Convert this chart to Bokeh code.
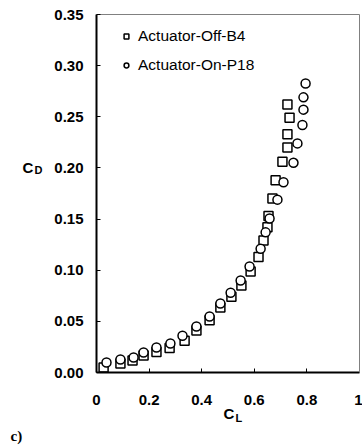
from bokeh.plotting import figure
from bokeh.models import (Range1d, FixedTicker, PrintfTickFormatter, CustomJSTickFormatter,
                          Legend, LegendItem, Label, ColumnDataSource, LinearAxis)
from bokeh.embed import file_html
from bokeh.resources import INLINE

# ---- data ----
off_cl = [0.027, 0.091, 0.137, 0.179, 0.228, 0.278, 0.335, 0.380, 0.430, 0.471, 0.513, 0.551,
          0.586, 0.616, 0.635, 0.650, 0.654, 0.669, 0.681, 0.707, 0.726, 0.726, 0.734, 0.726]
off_cd = [0.005, 0.0088, 0.0117, 0.0166, 0.020, 0.024, 0.031, 0.041, 0.051, 0.0635, 0.074, 0.085,
          0.0987, 0.113, 0.129, 0.142, 0.153, 0.170, 0.188, 0.206, 0.220, 0.233, 0.249, 0.262]
on_cl = [0.038, 0.091, 0.141, 0.179, 0.228, 0.281, 0.327, 0.380, 0.430, 0.471, 0.510, 0.548,
         0.582, 0.624, 0.643, 0.658, 0.688, 0.711, 0.749, 0.764, 0.783, 0.787, 0.787, 0.795]
on_cd = [0.0098, 0.0127, 0.0147, 0.0196, 0.0244, 0.0283, 0.036, 0.045, 0.0547, 0.0674, 0.078, 0.090,
         0.1036, 0.121, 0.137, 0.1505, 0.169, 0.186, 0.205, 0.224, 0.242, 0.257, 0.269, 0.2825]
series_names = ["Actuator-Off-B4", "Actuator-On-P18"]
x_ticks = [0, 0.2, 0.4, 0.6, 0.8, 1]
y_ticks = [0.0, 0.05, 0.10, 0.15, 0.20, 0.25, 0.30, 0.35]
x_lim = (0, 1)
y_lim = (0, 0.35)

FONT = "Liberation Sans"
W, H = 362, 446
# plot box in pixels (left, right, top, bottom)
PL, PR, PT, PB = 96, 359, 14, 372

# the frame covers the whole canvas; axes are drawn at fixed locations
kx = (PR - PL) / (x_lim[1] - x_lim[0])
ky = (PB - PT) / (y_lim[1] - y_lim[0])
x0 = x_lim[0] - PL / kx
y0 = y_lim[0] - (H - PB) / ky

p = figure(width=W, height=H, output_backend="svg", toolbar_location=None,
           x_range=Range1d(x0, x0 + W / kx), y_range=Range1d(y0, y0 + H / ky),
           min_border=0, min_border_left=0, min_border_right=0,
           min_border_top=0, min_border_bottom=0)

p.xgrid.visible = False
p.ygrid.visible = False
p.background_fill_color = "white"
p.border_fill_color = "white"
p.outline_line_color = None

xa = p.xaxis[0]
ya = p.yaxis[0]
xa.fixed_location = y_lim[0]
ya.fixed_location = x_lim[0]
xa.bounds = x_lim
ya.bounds = y_lim
for ax in (xa, ya):
    ax.axis_line_color = "black"
    ax.axis_line_width = 2
    ax.major_tick_in = 4
    ax.major_tick_out = 0
    ax.minor_tick_in = 0
    ax.minor_tick_out = 0
    ax.major_tick_line_color = "black"
    ax.major_tick_line_width = 1
    ax.major_label_text_font = FONT
    ax.major_label_text_font_style = "bold"
    ax.major_label_text_font_size = "15px"
    ax.major_label_text_color = "black"

xa.ticker = FixedTicker(ticks=x_ticks)
xa.formatter = CustomJSTickFormatter(code="return String(tick);")
xa.major_label_standoff = 22
ya.ticker = FixedTicker(ticks=y_ticks)
ya.formatter = PrintfTickFormatter(format="%.2f")
ya.major_label_standoff = 13

# grey top and right border of the plot box
for side, loc, bnds in (("above", y_lim[1], x_lim), ("right", x_lim[1], y_lim)):
    b = LinearAxis(fixed_location=loc, bounds=bnds, ticker=FixedTicker(ticks=[]),
                   axis_line_color="#808080", axis_line_width=1,
                   major_tick_line_color=None, minor_tick_line_color=None,
                   major_label_text_font_size="0px")
    p.add_layout(b, side)

src_off = ColumnDataSource(dict(x=off_cl, y=off_cd))
src_on = ColumnDataSource(dict(x=on_cl, y=on_cd))
r_off = p.scatter("x", "y", source=src_off, marker="square", size=9,
                  fill_color="white", line_color="black", line_width=1.5)
r_on = p.scatter("x", "y", source=src_on, marker="circle", size=9,
                 fill_color="white", line_color="black", line_width=1.5)

legend = Legend(items=[LegendItem(label=series_names[0], renderers=[r_off]),
                       LegendItem(label=series_names[1], renderers=[r_on])],
                location=(PL + 24, H - PB + 297), orientation="vertical",
                border_line_color=None, background_fill_alpha=0,
                padding=0, margin=0, spacing=9,
                glyph_width=12, glyph_height=20, label_height=20,
                label_standoff=6, label_text_font=FONT, label_text_font_size="15.5px",
                label_text_color="black")
p.add_layout(legend, "center")

# axis titles with subscripts, and the panel tag
lbl_kw = dict(text_font=FONT, text_font_style="bold", text_color="black",
              text_align="left", text_baseline="alphabetic")
p.add_layout(Label(x=-0.281, y=0.2004, text="C", text_font_size="15px", **lbl_kw))
p.add_layout(Label(x=-0.236, y=0.1975, text="D", text_font_size="11px", **lbl_kw))
p.add_layout(Label(x=0.483, y=-0.0405, text="C", text_font_size="15px", **lbl_kw))
p.add_layout(Label(x=0.5285, y=-0.0444, text="L", text_font_size="11px", **lbl_kw))
p.add_layout(Label(x=-0.327, y=-0.0625, text="c)", text_font="Liberation Serif",
                   text_font_style="bold", text_font_size="15px", text_color="black",
                   text_align="left", text_baseline="alphabetic"))

open("out.html", "w").write(file_html(p, INLINE))
